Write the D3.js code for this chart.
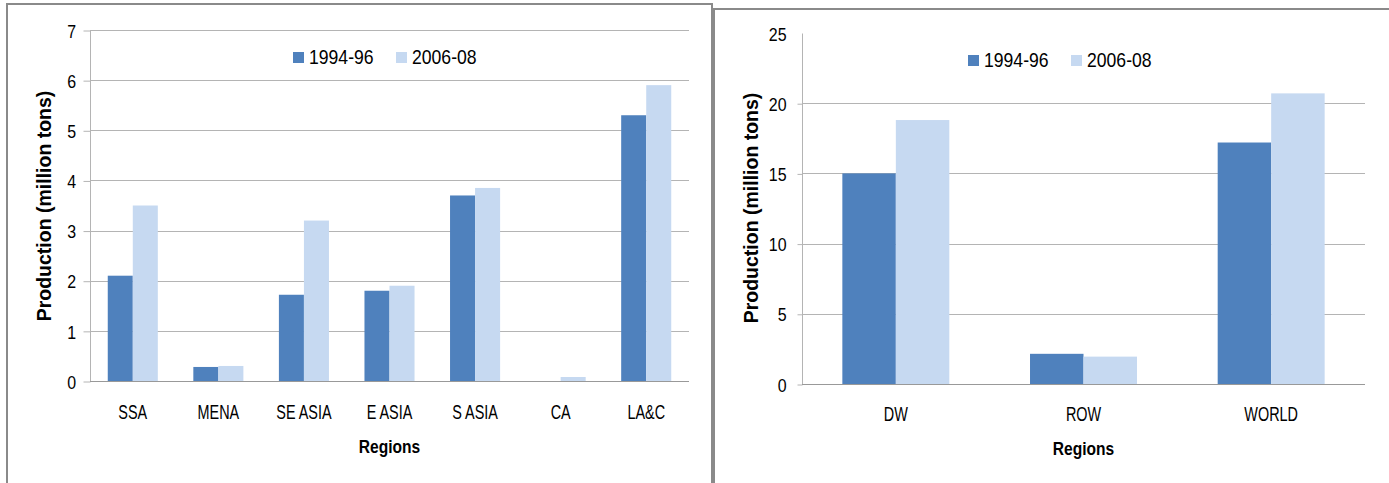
<!DOCTYPE html>
<html>
<head>
<meta charset="utf-8">
<script src="https://cdn.jsdelivr.net/npm/d3@7"></script>
<style>
  html, body { margin: 0; padding: 0; background: #fff; }
  svg { display: block; }
  text { font-family: "Liberation Sans", Arial, sans-serif; fill: #000; }
</style>
</head>
<body>
<svg id="chart" width="1389" height="483"></svg>
<script>
// ---------- data ----------
const regionsLeft = ["SSA", "MENA", "SE ASIA", "E ASIA", "S ASIA", "CA", "LA&C"];
const left1994 = [2.1, 0.28, 1.72, 1.8, 3.7, 0, 5.3];
const left2006 = [3.5, 0.3, 3.2, 1.9, 3.85, 0.08, 5.9];
const leftTicks = [0, 1, 2, 3, 4, 5, 6, 7];

const regionsRight = ["DW", "ROW", "WORLD"];
const right1994 = [15.0, 2.15, 17.2];
const right2006 = [18.8, 1.95, 20.7];
const rightTicks = [0, 5, 10, 15, 20, 25];

const seriesNames = ["1994-96", "2006-08"];
const seriesColors = ["#4F81BD", "#C6D9F1"];
const yTitle = "Production (million tons)";
const xTitle = "Regions";

// ---------- drawing ----------
const svg = d3.select("#chart");
svg.append("rect").attr("width", 1389).attr("height", 483).attr("fill", "#fff");

// panel frames
svg.append("rect").attr("x", 7).attr("y", 4).attr("width", 705).attr("height", 520)
  .attr("fill", "none").attr("stroke", "#8a8a8a").attr("stroke-width", 2);
svg.append("rect").attr("x", 714).attr("y", 9).attr("width", 700).attr("height", 520)
  .attr("fill", "none").attr("stroke", "#8a8a8a").attr("stroke-width", 2);

function condText(g, x, y, str, size, sx, anchor, weight) {
  const t = g.append("g").attr("transform", `translate(${x},${y}) scale(${sx},1)`)
    .append("text").attr("x", 0).attr("y", 0)
    .attr("text-anchor", anchor).attr("font-size", size)
    .attr("font-weight", weight || "normal").text(str);
  return t;
}

function drawChart(cfg) {
  const g = svg.append("g");
  const x0 = d3.scaleBand().domain(cfg.cats).range(cfg.xRange)
    .paddingInner(cfg.pad).paddingOuter(cfg.pad / 2);
  const x1 = d3.scaleBand().domain([0, 1]).range([0, x0.bandwidth()]);
  const y = d3.scaleLinear().domain([0, cfg.yMax]).range(cfg.yRange);

  // gridlines
  g.selectAll("line.grid").data(cfg.ticks.filter(t => t > 0 && (cfg.topGrid || t < cfg.yMax)))
    .join("line").attr("class", "grid")
    .attr("x1", cfg.xRange[0]).attr("x2", cfg.xRange[1])
    .attr("y1", d => Math.round(y(d)) + 0.5).attr("y2", d => Math.round(y(d)) + 0.5)
    .attr("stroke", "#b4b4b4").attr("stroke-width", 1);

  // y axis
  const yAxis = d3.axisLeft(y).tickValues(cfg.ticks).tickSize(cfg.tickLen).tickPadding(cfg.tickPad)
    .tickFormat(d3.format("d"));
  const ya = g.append("g").attr("transform", `translate(${cfg.xRange[0] + 0.5},0.5)`).call(yAxis);
  ya.select(".domain").attr("stroke", "#b4b4b4").attr("d", `M0,${y(0)}V${y(cfg.yMax)}`);
  ya.selectAll(".tick line").attr("stroke", "#b4b4b4")
    .attr("display", d => (!cfg.topGrid && d === cfg.yMax) ? "none" : null);
  ya.selectAll(".tick text").attr("font-size", 19)
    .attr("font-family", "Liberation Sans, Arial, sans-serif").attr("fill", "#000")
    .attr("transform", "scale(0.84,1)").attr("dy", "0.35em");

  // bars
  const data = cfg.cats.map((c, i) => ({ c, v: [cfg.s1[i], cfg.s2[i]] }));
  const grp = g.selectAll("g.cat").data(data).join("g").attr("class", "cat")
    .attr("transform", d => `translate(${x0(d.c)},0)`);
  grp.selectAll("rect").data(d => d.v.map((v, k) => ({ v, k })))
    .join("rect")
    .attr("x", d => x1(d.k)).attr("width", x1.bandwidth())
    .attr("y", d => y(d.v)).attr("height", d => y(0) - y(d.v))
    .attr("fill", d => seriesColors[d.k]);

  // x axis line
  g.append("line").attr("x1", cfg.xRange[0]).attr("x2", cfg.xRange[1])
    .attr("y1", Math.round(y(0)) + 0.5).attr("y2", Math.round(y(0)) + 0.5)
    .attr("stroke", "#999").attr("stroke-width", 1.2);

  // category labels
  cfg.cats.forEach(c => {
    condText(g, x0(c) + x0.bandwidth() / 2, cfg.catY, c, 19.5, 0.74, "middle");
  });

  // x title
  condText(g, (cfg.xRange[0] + cfg.xRange[1]) / 2, cfg.xTitleY, xTitle, 19, 0.82, "middle", "bold");

  // y title
  g.append("text").attr("transform", `translate(${cfg.yTitleX},${cfg.yTitleY}) rotate(-90)`)
    .attr("text-anchor", "middle").attr("font-size", 19.5).attr("font-weight", "bold").text(yTitle);

  // legend
  seriesNames.forEach((s, k) => {
    const lx = cfg.legX + k * 103;
    g.append("rect").attr("x", lx).attr("y", cfg.legY).attr("width", 11).attr("height", 11)
      .attr("fill", seriesColors[k]);
    condText(g, lx + 16, cfg.legY + 12, s, 20, 0.88, "start");
  });
}

drawChart({
  cats: regionsLeft, s1: left1994, s2: left2006, ticks: leftTicks, yMax: 7,
  xRange: [90, 689], yRange: [381, 30], pad: 0.415, topGrid: true,
  tickLen: 7, tickPad: 10, catY: 419, xTitleY: 453, yTitleX: 51, yTitleY: 206,
  legX: 293, legY: 52
});

drawChart({
  cats: regionsRight, s1: right1994, s2: right2006, ticks: rightTicks, yMax: 25,
  xRange: [802, 1365], yRange: [384, 33], pad: 0.43, topGrid: false,
  tickLen: 5, tickPad: 14, catY: 421, xTitleY: 455, yTitleX: 758, yTitleY: 208,
  legX: 968, legY: 55
});
</script>
</body>
</html>
